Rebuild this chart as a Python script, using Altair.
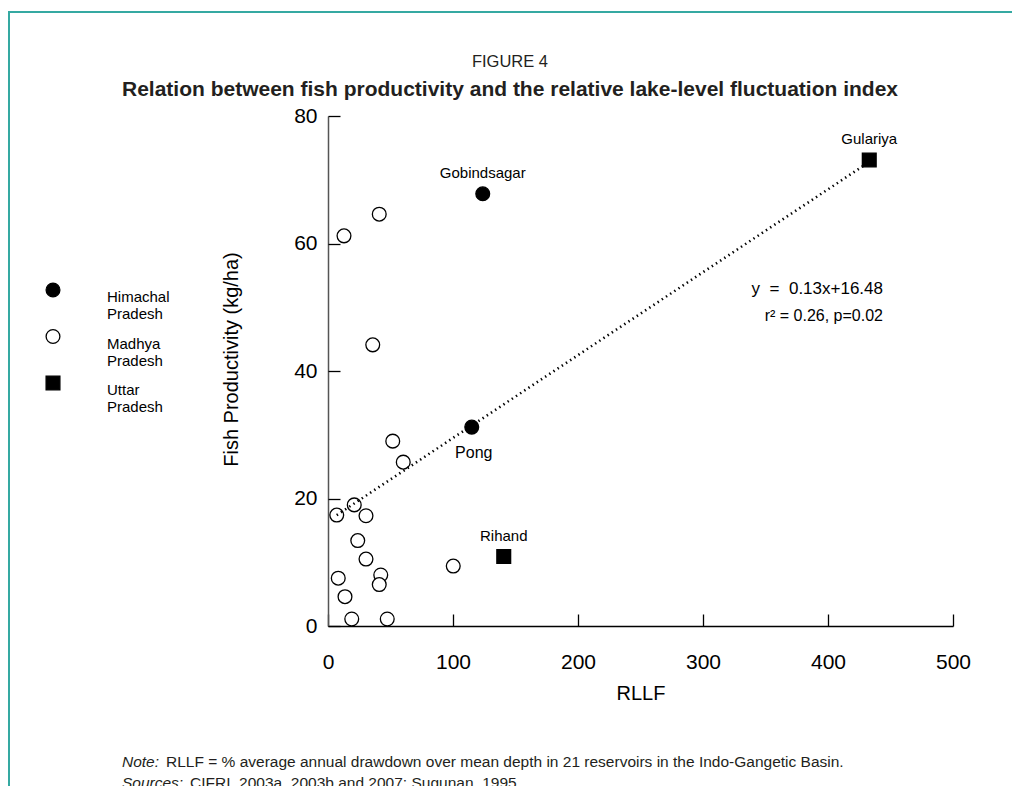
import altair as alt
import pandas as pd

# ---------------- data ----------------
state_order = ["Himachal Pradesh", "Madhya Pradesh", "Uttar Pradesh"]
states = ["Madhya Pradesh"] * 17 + ["Himachal Pradesh"] * 2 + ["Uttar Pradesh"] * 2
names = [""] * 17 + ["Gobindsagar", "Pong", "Rihand", "Gulariya"]
rllf = [41.0, 12.8, 35.8, 51.8, 60.2, 21.0, 7.0, 30.4, 23.8, 30.4, 100.2, 8.2,
        42.2, 41.0, 13.6, 19.0, 47.4, 123.8, 115.0, 140.6, 433.0]
prod = [64.6, 61.2, 44.1, 29.0, 25.7, 19.0, 17.4, 17.3, 13.4, 10.5, 9.4, 7.5,
        8.0, 6.5, 4.6, 1.1, 1.1, 67.8, 31.2, 10.9, 73.1]

trend_x = [7, 430]
trend_y = [17.4, 72.4]

x_ticks = [0, 100, 200, 300, 400, 500]
y_ticks = [0, 20, 40, 60, 80]

df = pd.DataFrame({"state": states, "name": names, "rllf": rllf, "prod": prod})
trend = pd.DataFrame({"rllf": trend_x, "prod": trend_y})
one = pd.DataFrame({"a": [0]})

# ---------------- style ----------------
W, H = 625, 510
FONT = "Liberation Sans"
TEAL = "#35a9a2"
INK = "#231f20"

x_scale = alt.Scale(domain=[0, 500], nice=False)
y_scale = alt.Scale(domain=[0, 80], nice=False)

leg = alt.Legend(
    title=None, orient="none", legendX=-283, legendY=166,
    labelExpr="split(datum.label, ' ')", labelFont=FONT, labelFontSize=15,
    labelColor="black", labelBaseline="top", labelOffset=46,
    symbolSize=190, symbolStrokeColor="black", symbolStrokeWidth=1.3,
    rowPadding=4.5, padding=0,
)
black3 = alt.Scale(domain=state_order, range=["black", "black", "black"])

points = alt.Chart(df).mark_point(
    opacity=1, fillOpacity=1, strokeWidth=1.3, size=190
).encode(
    x=alt.X("rllf:Q", scale=x_scale, axis=alt.Axis(
        values=x_ticks, ticks=False, grid=False, domainColor="black", domainWidth=1.5,
        labelFont=FONT, labelFontSize=21, labelColor="black", labelPadding=25,
        labelFlush=False,
        title="RLLF", titleFont=FONT, titleFontSize=20, titleFontWeight="normal",
        titleColor="black", titlePadding=11)),
    y=alt.Y("prod:Q", scale=y_scale, axis=alt.Axis(
        values=y_ticks, ticks=False, grid=False, domainColor="#555", domainWidth=1.5,
        labelFont=FONT, labelFontSize=21, labelColor="black", labelPadding=11,
        labelFlush=False,
        title="Fish Productivity (kg/ha)", titleFont=FONT, titleFontSize=20,
        titleFontWeight="normal", titleColor="black", titlePadding=52, titleY=243)),
    shape=alt.Shape("state:N", scale=alt.Scale(domain=state_order,
                    range=["circle", "circle", "square"]), legend=leg),
    fill=alt.Fill("state:N", scale=alt.Scale(domain=state_order,
                  range=["black", "white", "black"]), legend=leg),
    stroke=alt.Stroke("state:N", scale=black3, legend=leg),
)

# inward-pointing ticks drawn by a second (opposite) axis pulled onto the plot edge
ticks = alt.Chart(df).mark_point(opacity=0).encode(
    x=alt.X("rllf:Q", scale=x_scale, axis=alt.Axis(
        orient="top", offset=-H, values=x_ticks, labels=False, domain=False,
        grid=False, tickSize=12, tickColor="black", tickWidth=1.3, title=None)),
    y=alt.Y("prod:Q", scale=y_scale, axis=alt.Axis(
        orient="right", offset=-W, values=y_ticks, labels=False, domain=False,
        grid=False, tickSize=12, tickColor="black", tickWidth=1.3, title=None)),
)

trend_line = alt.Chart(trend).mark_line(
    color="black", strokeWidth=2.6, strokeDash=[1.4, 3.6]
).encode(
    x=alt.X("rllf:Q", scale=x_scale, axis=None),
    y=alt.Y("prod:Q", scale=y_scale, axis=None),
)

above = alt.Chart(df).transform_filter(
    alt.FieldOneOfPredicate(field="name", oneOf=["Gobindsagar", "Rihand", "Gulariya"])
).mark_text(dy=-21, font=FONT, fontSize=15, color="black").encode(
    x=alt.X("rllf:Q", scale=x_scale, axis=None),
    y=alt.Y("prod:Q", scale=y_scale, axis=None),
    text="name:N",
)
below = alt.Chart(df).transform_filter(
    alt.FieldOneOfPredicate(field="name", oneOf=["Pong"])
).mark_text(dy=26, dx=2, font=FONT, fontSize=16, color="black").encode(
    x=alt.X("rllf:Q", scale=x_scale, axis=None),
    y=alt.Y("prod:Q", scale=y_scale, axis=None),
    text="name:N",
)

def label(text, x, y, **kw):
    return alt.Chart(one).mark_text(text=text, **kw).encode(
        x=alt.value(x), y=alt.value(y))

NB = "\u00a0"
eq1 = label(f"y{NB}{NB}={NB}{NB}0.13x+16.48", 555, 173, align="right",
            baseline="middle", font=FONT, fontSize=17, color="black")
eq2 = label("r\u00b2 = 0.26, p=0.02", 555, 200, align="right",
            baseline="middle", font=FONT, fontSize=16, color="black")

fig = label("FIGURE 4", 182, -54, align="center", baseline="middle",
            font=FONT, fontSize=16.5, color=INK)
ttl = label("Relation between fish productivity and the relative lake-level fluctuation index",
            182, -26, align="center", baseline="middle", font=FONT, fontSize=21,
            fontWeight="bold", color=INK)
note_a = label("Note:", -206, 646, align="left", baseline="middle", font=FONT,
               fontSize=15.5, fontStyle="italic", color=INK)
note_b = label("RLLF = % average annual drawdown over mean depth in 21 reservoirs in the Indo-Gangetic Basin.",
               -162, 646, align="left", baseline="middle", font=FONT, fontSize=15.5, color=INK)
src_a = label("Sources:", -206, 667, align="left", baseline="middle", font=FONT,
              fontSize=15.5, fontStyle="italic", color=INK)
src_b = label("CIFRI, 2003a, 2003b and 2007; Sugunan, 1995.", -138, 667, align="left",
              baseline="middle", font=FONT, fontSize=15.5, color=INK)

border_v = alt.Chart(one).mark_rule(color=TEAL, strokeWidth=2).encode(
    x=alt.value(-319), y=alt.value(-104), y2=alt.value(680))
border_h = alt.Chart(one).mark_rule(color=TEAL, strokeWidth=2).encode(
    x=alt.value(-320), x2=alt.value(684), y=alt.value(-104))

chart = alt.layer(
    border_v, border_h, points, ticks, trend_line, above, below, eq1, eq2,
    fig, ttl, note_a, note_b, src_a, src_b,
).resolve_axis(x="independent", y="independent").properties(
    width=W, height=H,
    autosize=alt.AutoSizeParams(type="none"),
    padding={"left": 320, "top": 108, "right": 59, "bottom": 168},
).configure_view(stroke=None)

chart.save("out.html", embed_options={"renderer": "svg", "actions": False})
